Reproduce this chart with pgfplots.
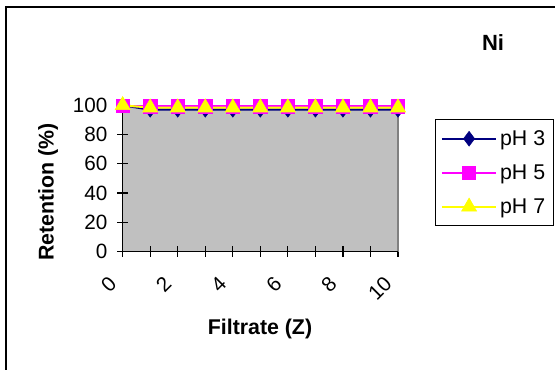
\documentclass[border=0pt]{standalone}
\usepackage{pgfplots}
\pgfplotsset{compat=1.18}
\usepackage{fontspec}
\setmainfont{Liberation Sans}
\definecolor{plotgray}{HTML}{C0C0C0}
\definecolor{framegray}{HTML}{808080}
\definecolor{navyc}{HTML}{000080}
\definecolor{magc}{HTML}{FF00FF}
\definecolor{yelc}{HTML}{FFFF00}
\pgfplotstableread{
x p3 p5 p7
0 100 99.6 100
1 97 99.4 98.4
2 97 99.4 98.4
3 97 99.4 98.4
4 97 99.4 98.4
5 97 99.4 98.4
6 97 99.4 98.4
7 97 99.4 98.4
8 97 99.4 98.4
9 97 99.4 98.4
10 97 99.4 98.4
}\datatable
\begin{document}
\begin{tikzpicture}[x=0.75pt,y=0.75pt]
\path[use as bounding box] (0,0) rectangle (555,370);
\draw[line width=1.5pt] (6,-10) -- (6,363) -- (565,363);
\node[font=\fontsize{16.5}{18}\selectfont\bfseries] at (493,327) {Ni};
\node[font=\fontsize{16}{18}\selectfont\bfseries] at (260,41) {Filtrate (Z)};
\node[font=\fontsize{16}{18}\selectfont\bfseries, rotate=90] at (48,178) {Retention (\%)};
\begin{axis}[
  at={(92pt,89pt)}, anchor=south west,
  scale only axis, width=206.5pt, height=109.5pt,
  xmin=0, xmax=10, ymin=0, ymax=100,
  xtick={0,2,...,10}, minor xtick={1,3,...,9},
  ytick={0,20,...,100},
  xtick pos=left, ytick pos=left,
  tick align=center, major tick length=8pt, minor tick length=8pt,
  tick style={black, line width=0.9pt},
  minor tick style={black, line width=0.9pt},
  axis line style={draw=framegray, line width=1.2pt},
  axis background/.style={fill=plotgray},
  /pgf/number format/assume math mode=true,
  ticklabel style={font=\fontsize{15.5}{17}\selectfont},
  xticklabel style={shift={(-5pt,-15pt)}, rotate=45, anchor=east},
  yticklabel style={xshift=-4pt},
  clip=false,
  legend style={at={(1.134,0.906)}, anchor=north west, draw=black, fill=white,
    line width=0.8pt, font=\fontsize{16}{18}\selectfont, inner xsep=4pt, inner ysep=6pt,
    row sep=9pt, cells={anchor=west}},
  legend image code/.code={
    \draw[#1, mark repeat=2, mark phase=2] plot coordinates {(0pt,0pt) (20.5pt,0pt) (41pt,0pt)};
  },
]
\addplot[navyc, line width=1.5pt, mark=diamond*, mark size=5.5pt, mark options={fill=navyc, draw=navyc, line width=0.5pt}] table[x=x,y=p3] {\datatable};
\addlegendentry{pH 3}
\addplot[magc, line width=1.5pt, mark=square*, mark size=5pt, mark options={fill=magc, draw=magc, line width=0.5pt}] table[x=x,y=p5] {\datatable};
\addlegendentry{pH 5}
\addplot[yelc, line width=1.5pt, mark=triangle*, mark size=6.5pt, mark options={fill=yelc, draw=yelc, line width=0.5pt}] table[x=x,y=p7] {\datatable};
\addlegendentry{pH 7}
\draw[black, line width=1.2pt] (rel axis cs:0,1) -- (rel axis cs:0,0) -- (rel axis cs:1,0);
\end{axis}
\end{tikzpicture}
\end{document}
